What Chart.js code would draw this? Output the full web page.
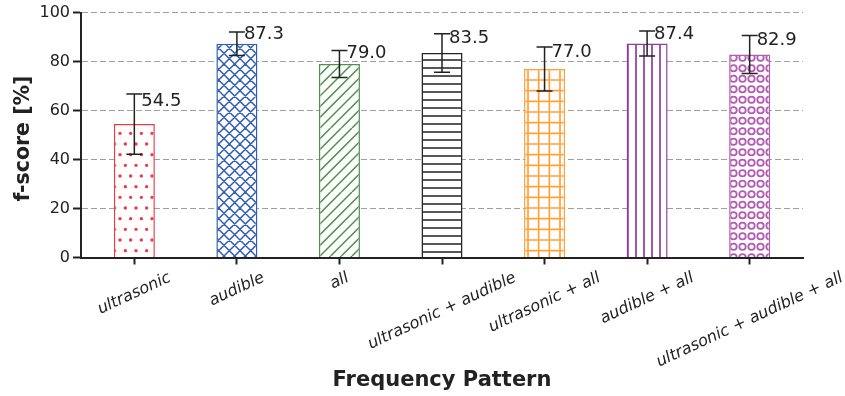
<!DOCTYPE html>
<html><head><meta charset="utf-8">
<script src="https://cdn.jsdelivr.net/npm/chart.js@4"></script>
<style>html,body{margin:0;padding:0;background:#fff}canvas{display:block}</style>
</head><body>
<canvas id="c" width="845" height="396"></canvas>
<script>
const categories = ['ultrasonic', 'audible', 'all', 'ultrasonic + audible', 'ultrasonic + all', 'audible + all', 'ultrasonic + audible + all'];
const fscore = [54.5, 87.3, 79.0, 83.5, 77.0, 87.4, 82.9];
const fscoreErr = [12.3, 4.8, 5.5, 7.9, 9.0, 5.1, 7.8];
const yTicks = [0, 20, 40, 60, 80, 100];
const barColors = ['#ec3a40', '#3560b0', '#4f924f', '#222222', '#ffa23e', '#8e3d98', '#b35ab3'];
const hatches = ['dots', 'cross', 'diag', 'hlines', 'grid', 'vlines', 'circles'];

const canvas = document.getElementById('c');
const mainCtx = canvas.getContext('2d');

function makePattern(kind, color) {
  const T = kind === 'circles' ? 63 : 64, s = T / 6;
  const c = document.createElement('canvas');
  c.width = T; c.height = T;
  const g = c.getContext('2d');
  g.fillStyle = '#fff'; g.fillRect(0, 0, T, T);
  g.strokeStyle = color; g.fillStyle = color; g.lineWidth = 1.5;
  g.beginPath();
  if (kind === 'dots') {
    for (let j = 0; j < 6; j++) for (let i = -1; i <= 6; i++) {
      const x = i * s + (j % 2 ? s / 2 : 0) + s / 4, y = j * s + s / 2;
      g.moveTo(x + 1.7, y); g.arc(x, y, 1.7, 0, 2 * Math.PI);
    }
    g.fill();
  } else if (kind === 'cross') {
    for (let k = -7; k <= 7; k++) {
      g.moveTo(k * s, 0); g.lineTo(k * s + T, T);
      g.moveTo(k * s, T); g.lineTo(k * s + T, 0);
    }
    g.stroke();
  } else if (kind === 'diag') {
    for (let k = -7; k <= 7; k++) { g.moveTo(k * s, T); g.lineTo(k * s + T, 0); }
    g.stroke();
  } else if (kind === 'hlines') {
    g.lineWidth = 1.7;
    for (let k = 0; k < 8; k++) { const y = k * 8 + 4; g.moveTo(0, y); g.lineTo(T, y); }
    g.stroke();
  } else if (kind === 'grid') {
    g.lineWidth = 1.7;
    for (let k = 0; k < 6; k++) {
      const p = k * s + s / 2;
      g.moveTo(0, p); g.lineTo(T, p); g.moveTo(p, 0); g.lineTo(p, T);
    }
    g.stroke();
  } else if (kind === 'vlines') {
    g.lineWidth = 1.7;
    for (let k = 0; k < 8; k++) { const x = k * 8 + 4; g.moveTo(x, 0); g.lineTo(x, T); }
    g.stroke();
  } else if (kind === 'circles') {
    g.lineWidth = 1.8;
    for (let j = 0; j < 6; j++) for (let i = 0; i < 7; i++) {
      const x = i * 9 + 4.5, y = j * s + s / 2;
      g.moveTo(x + 3.2, y); g.arc(x, y, 3.2, 0, 2 * Math.PI);
    }
    g.stroke();
  }
  return mainCtx.createPattern(c, 'repeat');
}
const patterns = hatches.map((h, i) => makePattern(h, barColors[i]));

const TXT = '#222222';
const overlay = {
  id: 'overlay',
  afterDatasetsDraw(chart) {
    const { ctx, scales: { x, y } } = chart;
    ctx.save();
    ctx.strokeStyle = TXT; ctx.lineWidth = 1.5;
    fscore.forEach((v, i) => {
      const px = x.getPixelForValue(i);
      const top = y.getPixelForValue(v + fscoreErr[i]);
      const bot = y.getPixelForValue(v - fscoreErr[i]);
      ctx.beginPath();
      ctx.moveTo(px, top); ctx.lineTo(px, bot);
      ctx.moveTo(px - 8, top); ctx.lineTo(px + 8, top);
      ctx.moveTo(px - 8, bot); ctx.lineTo(px + 8, bot);
      ctx.stroke();
      ctx.fillStyle = TXT;
      ctx.font = '18px "DejaVu Sans"';
      ctx.textAlign = 'left'; ctx.textBaseline = 'middle';
      ctx.fillText(v.toFixed(1), px + 7, y.getPixelForValue(v + 0.76 * fscoreErr[i]));
    });
    // rotated category labels, bounding box centred under each tick
    const rot = 25 * Math.PI / 180, fs = 16, h = fs * 1.17;
    ctx.font = 'italic ' + fs + 'px "DejaVu Sans"';
    ctx.textAlign = 'center'; ctx.textBaseline = 'middle';
    categories.forEach((lab, i) => {
      const px = x.getPixelForValue(i);
      const w = ctx.measureText(lab).width;
      const bh = w * Math.sin(rot) + h * Math.cos(rot);
      const cy = y.bottom + 11 + bh / 2;
      ctx.save();
      ctx.translate(px, cy); ctx.rotate(-rot);
      ctx.fillText(lab, 0, 0);
      ctx.restore();
    });
    // y axis title
    ctx.save();
    ctx.font = 'bold 20.5px "DejaVu Sans"';
    ctx.translate(24, (y.top + y.bottom) / 2 + 3.5);
    ctx.rotate(-Math.PI / 2);
    ctx.fillText('f-score [%]', 0, 0);
    ctx.restore();
    ctx.restore();
  }
};

new Chart(mainCtx, {
  type: 'bar',
  data: {
    datasets: [{
      data: fscore.map((v, i) => ({ x: i, y: v })),
      backgroundColor: patterns,
      borderColor: barColors,
      borderWidth: 1.5,
      barPercentage: 0.4,
      categoryPercentage: 1
    }]
  },
  options: {
    responsive: false, animation: false, devicePixelRatio: 1,
    layout: { padding: { top: 11, right: 42, bottom: 0, left: 0 } },
    plugins: { legend: { display: false }, tooltip: { enabled: false } },
    scales: {
      x: {
        type: 'linear', min: -0.52, max: 6.52, offset: false,
        afterBuildTicks: s => { s.ticks = categories.map((_, i) => ({ value: i })); },
        ticks: { display: false },
        grid: { offset: false, drawOnChartArea: false, drawTicks: true, tickLength: 7, tickWidth: 2, tickColor: TXT, color: TXT },
        border: { display: true, color: TXT, width: 2 },
        title: { display: true, text: 'Frequency Pattern', color: TXT,
          font: { family: 'DejaVu Sans', size: 21, weight: 'bold' }, padding: { top: 0, bottom: 3 } },
        afterFit: s => { s.height = 138.5; }
      },
      y: {
        min: 0, max: 100,
        afterBuildTicks: s => { s.ticks = yTicks.map(v => ({ value: v })); },
        ticks: { font: { family: 'DejaVu Sans', size: 16 }, color: TXT, padding: 3 },
        grid: { color: '#a0a0a0', lineWidth: 1, tickLength: 8, tickWidth: 2, tickColor: TXT, tickBorderDash: [] },
        border: { display: true, color: TXT, width: 2, dash: [6, 3] },
        title: { display: false },
        afterFit: s => { s.width = 81; }
      }
    }
  },
  plugins: [overlay]
});
</script>
</body></html>
